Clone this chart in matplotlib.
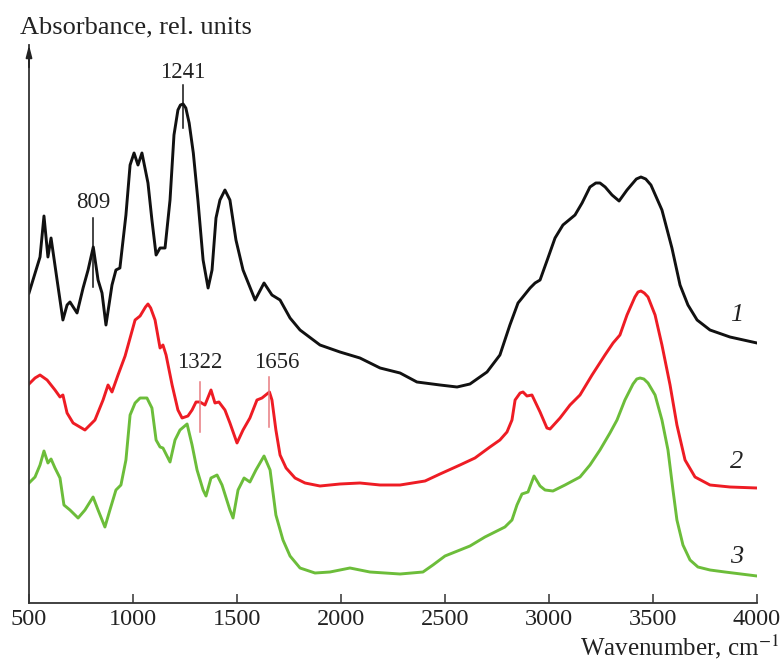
import matplotlib
matplotlib.use("Agg")
import matplotlib.pyplot as plt

# ---- data (wavenumber, cm^-1 ; absorbance, rel. units) ----
wn_1 = [500, 553, 572, 591, 606, 635, 663, 683, 697, 731, 760, 784, 809, 832, 851, 870, 899, 918, 937, 966,
        986, 1005, 1024, 1043, 1072, 1091, 1111, 1130, 1154, 1178, 1197, 1216, 1228, 1241, 1254, 1270, 1290, 1312, 1337,
        1361, 1380, 1399, 1418, 1442, 1466, 1495, 1529, 1587, 1630, 1668, 1707, 1755, 1803, 1899, 1995, 2091,
        2188, 2284, 2365, 2476, 2558, 2620, 2702, 2764, 2812, 2851, 2909, 2933, 2957, 2995, 3029, 3067, 3125,
        3159, 3197, 3225, 3245, 3270, 3303, 3337, 3375, 3420, 3442, 3465, 3490, 3543, 3591, 3630, 3668, 3712, 3774, 3870, 4000]
abs_1 = [3.10, 3.46, 3.87, 3.46, 3.65, 3.23, 2.83, 2.98, 3.01, 2.90, 3.15, 3.33, 3.56, 3.23, 3.10, 2.78, 3.18,
         3.33, 3.35, 3.88, 4.38, 4.50, 4.38, 4.50, 4.20, 3.83, 3.48, 3.55, 3.55, 4.03, 4.68, 4.93, 4.98, 4.99, 4.95, 4.80,
         4.50, 4.03, 3.43, 3.15, 3.33, 3.85, 4.03, 4.13, 4.03, 3.63, 3.33, 3.03, 3.20, 3.08, 3.03, 2.85, 2.73,
         2.58, 2.51, 2.45, 2.35, 2.30, 2.21, 2.18, 2.16, 2.19, 2.31, 2.48, 2.78, 3.00, 3.15, 3.20, 3.23, 3.45,
         3.65, 3.78, 3.88, 4.00, 4.16, 4.20, 4.20, 4.16, 4.08, 4.02, 4.13, 4.24, 4.26, 4.24, 4.18, 3.93, 3.55, 3.18, 2.98, 2.83, 2.73,
         2.66, 2.60]

wn_2 = [500, 529, 553, 587, 625, 649, 663, 683, 712, 769, 817, 856, 880, 899, 928, 962, 986, 1010, 1034, 1060, 1072, 1085,
        1106, 1130, 1144, 1159, 1188, 1216, 1236, 1264, 1284, 1303, 1322, 1346, 1375, 1394, 1413, 1442, 1466,
        1500, 1529, 1562, 1596, 1620, 1656, 1668, 1687, 1707, 1736, 1779, 1827, 1899, 1995, 2091, 2188, 2284,
        2404, 2476, 2572, 2644, 2716, 2764, 2798, 2822, 2837, 2861, 2875, 2894, 2918, 2957, 2990, 3005, 3053,
        3101, 3149, 3207, 3269, 3308, 3341, 3375, 3413, 3428, 3442, 3458, 3476, 3510, 3543, 3582, 3615, 3654, 3702, 3774,
        3870, 4000]
abs_2 = [2.19, 2.25, 2.28, 2.23, 2.13, 2.06, 2.08, 1.90, 1.80, 1.73, 1.83, 2.03, 2.18, 2.11, 2.28, 2.47, 2.65,
         2.83, 2.87, 2.96, 2.99, 2.95, 2.83, 2.55, 2.58, 2.48, 2.18, 1.93, 1.85, 1.87, 1.93, 2.01, 2.01, 1.98, 2.13, 2.00,
         2.01, 1.93, 1.80, 1.60, 1.73, 1.85, 2.03, 2.05, 2.11, 2.03, 1.73, 1.48, 1.35, 1.25, 1.20, 1.17, 1.19,
         1.20, 1.18, 1.18, 1.22, 1.29, 1.38, 1.45, 1.56, 1.63, 1.71, 1.83, 2.03, 2.10, 2.11, 2.07, 2.08, 1.91,
         1.75, 1.74, 1.85, 1.98, 2.08, 2.28, 2.48, 2.60, 2.68, 2.88, 3.06, 3.11, 3.12, 3.10, 3.06, 2.88, 2.58, 2.18, 1.78,
         1.43, 1.26, 1.18, 1.16, 1.15]

wn_3 = [500, 529, 553, 572, 591, 606, 625, 649, 668, 697, 736, 769, 808, 832, 865, 889, 918, 942, 966, 986,
        1010, 1034, 1067, 1091, 1111, 1130, 1144, 1178, 1202, 1226, 1260, 1284, 1308, 1337, 1351, 1375, 1404,
        1428, 1466, 1481, 1505, 1534, 1562, 1591, 1630, 1659, 1687, 1721, 1755, 1803, 1875, 1947, 2043, 2139,
        2284, 2394, 2442, 2500, 2572, 2620, 2692, 2788, 2822, 2846, 2870, 2899, 2928, 2957, 2981, 3019, 3077,
        3149, 3197, 3245, 3293, 3327, 3365, 3404, 3422, 3438, 3456, 3476, 3510, 3543, 3572, 3596, 3615, 3644, 3678, 3716,
        3774, 3846, 4000]
abs_3 = [1.20, 1.26, 1.38, 1.52, 1.40, 1.44, 1.35, 1.25, 0.98, 0.93, 0.85, 0.93, 1.06, 0.93, 0.76, 0.93, 1.13,
         1.18, 1.43, 1.88, 2.00, 2.05, 2.05, 1.95, 1.63, 1.56, 1.55, 1.41, 1.63, 1.73, 1.79, 1.58, 1.33, 1.13,
         1.07, 1.25, 1.28, 1.18, 0.93, 0.85, 1.13, 1.25, 1.21, 1.33, 1.47, 1.33, 0.88, 0.63, 0.47, 0.35, 0.30,
         0.31, 0.35, 0.31, 0.29, 0.31, 0.38, 0.47, 0.53, 0.57, 0.66, 0.76, 0.83, 0.98, 1.09, 1.11, 1.27, 1.17,
         1.13, 1.12, 1.18, 1.26, 1.38, 1.53, 1.70, 1.83, 2.03, 2.19, 2.24, 2.25, 2.24, 2.20, 2.08, 1.83, 1.53, 1.13, 0.83,
         0.58, 0.43, 0.36, 0.33, 0.31, 0.27]

curve_labels = ["1", "2", "3"]
x_ticks = [500, 1000, 1500, 2000, 2500, 3000, 3500, 4000]

plt.rcParams['font.family'] = ['Liberation Serif', 'DejaVu Serif']
plt.rcParams['mathtext.fontset'] = 'stix'

fig = plt.figure(figsize=(7.83, 6.61), dpi=100)
W, H = 783, 661
ax = fig.add_axes([29 / W, 1 - 603 / H, (757 - 29) / W, (603 - 45) / H])

c_black, c_red, c_green = '#111111', '#ee1c24', '#6cbd3a'
lw = 2.1
ax.plot(wn_1, abs_1, color=c_black, lw=lw, solid_joinstyle='round')
ax.plot(wn_2, abs_2, color=c_red, lw=lw, solid_joinstyle='round')
ax.plot(wn_3, abs_3, color=c_green, lw=lw, solid_joinstyle='round')

ax.set_xlim(500, 4000)
ax.set_ylim(0, 5.58)

for s in ['top', 'right']:
    ax.spines[s].set_visible(False)
for s in ['left', 'bottom']:
    ax.spines[s].set_color('#333333')
    ax.spines[s].set_linewidth(1.3)

ax.set_xticks(x_ticks)
ax.set_xticklabels([str(t) for t in x_ticks])
ax.tick_params(axis='x', direction='in', length=6.5, width=1.1, color='#333333',
               labelsize=17.5, pad=4.5, labelcolor='#222222')
ax.set_yticks([])

# arrow on y axis
ax.annotate('', xy=(0, 1.0), xytext=(0, 0.96), xycoords='axes fraction',
            arrowprops=dict(arrowstyle='-|>,head_length=0.7,head_width=0.18',
                            color='#222222', lw=1.3, shrinkA=0, shrinkB=0))

# axis titles
fig.text(20 / W, 1 - 27 / H, 'Absorbance, rel. units', ha='left', va='center',
         fontsize=19, color='#222222')
fig.text(779 / W, 1 - 647 / H, 'Wavenumber, cm$^{-1}$', ha='right', va='center',
         fontsize=18, color='#222222')

# curve numbers
for lab, wv, yy in zip(curve_labels, [3900, 3900, 3900], [2.88, 1.41, 0.46]):
    ax.text(wv, yy, lab, fontsize=19, style='italic', ha='center', va='center', color='#222222')

# peak annotations
ax.plot([809, 809], [3.16, 3.85], color=c_black, lw=1.1)
ax.text(809, 4.01, '809', ha='center', va='center', fontsize=16.5, color='#222222')
ax.plot([1241, 1241], [4.75, 5.18], color=c_black, lw=1.1)
ax.text(1241, 5.30, '1241', ha='center', va='center', fontsize=16.5, color='#222222')
ax.plot([1322, 1322], [1.71, 2.21], color='#e87a80', lw=1.1)
ax.text(1322, 2.41, '1322', ha='center', va='center', fontsize=16.5, color='#222222')
ax.plot([1656, 1656], [1.76, 2.26], color='#e87a80', lw=1.1)
ax.text(1690, 2.41, '1656', ha='center', va='center', fontsize=16.5, color='#222222')

fig.savefig('out.png', dpi=100)
